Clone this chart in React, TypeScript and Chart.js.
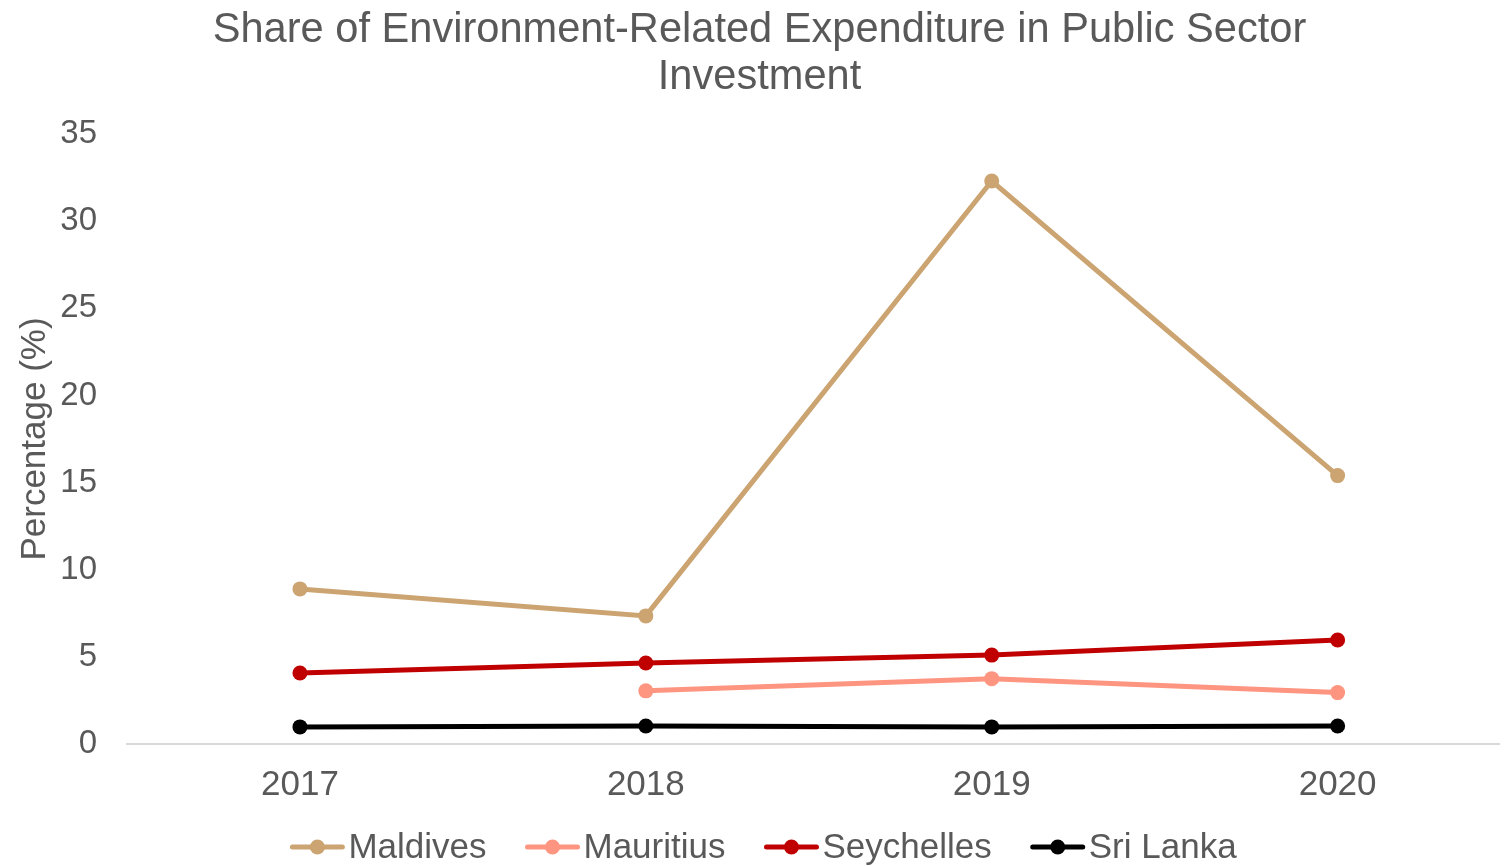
import React, { useEffect, useRef } from "react";
import { Chart, registerables } from "chart.js";

Chart.register(...registerables);

const categories = ["2017", "2018", "2019", "2020"];
const maldives = [8.9, 7.35, 32.3, 15.4];
const mauritius = [null, 3.05, 3.75, 2.95];
const seychelles = [4.07, 4.65, 5.1, 5.97];
const sriLanka = [0.98, 1.03, 0.98, 1.03];
const yTicks = [0, 5, 10, 15, 20, 25, 30, 35];

const seriesNames = ["Maldives", "Mauritius", "Seychelles", "Sri Lanka"];
const seriesColors = ["#CBA471", "#FD9581", "#C00000", "#000000"];
const titleLines = ["Share of Environment-Related Expenditure in Public Sector", "Investment"];

const TEXT = "#595959";
const FONT = "'Liberation Sans', Arial, sans-serif";

const catValues = categories.map((c) => Number(c));

const titleAndLegend = {
  id: "titleAndLegend",
  afterDraw(chart: any) {
    const ctx = chart.ctx as CanvasRenderingContext2D;
    ctx.save();
    // title
    ctx.font = `41.6px ${FONT}`;
    ctx.fillStyle = TEXT;
    ctx.textAlign = "center";
    ctx.textBaseline = "middle";
    titleLines.forEach((line, i) => {
      ctx.fillText(line, chart.width / 2 + 6, 31 + i * 47);
    });
    // legend
    ctx.font = `35px ${FONT}`;
    const iconW = 54;
    const iconGap = 4;
    const itemGap = 39;
    const widths = seriesNames.map((n) => iconW + iconGap + ctx.measureText(n).width);
    const total = widths.reduce((a, b) => a + b, 0) + itemGap * (seriesNames.length - 1);
    let x = chart.width / 2 - total / 2 + 10;
    const y = 847;
    seriesNames.forEach((name, i) => {
      const col = seriesColors[i];
      ctx.strokeStyle = col;
      ctx.lineWidth = 5;
      ctx.lineCap = "round";
      ctx.beginPath();
      ctx.moveTo(x + 2, y);
      ctx.lineTo(x + iconW - 2, y);
      ctx.stroke();
      ctx.fillStyle = col;
      ctx.beginPath();
      ctx.arc(x + iconW / 2, y, 7.5, 0, Math.PI * 2);
      ctx.fill();
      ctx.fillStyle = TEXT;
      ctx.textAlign = "left";
      ctx.fillText(name, x + iconW + iconGap, y + 1);
      x += widths[i] + itemGap;
    });
    ctx.restore();
  },
};

export default function App() {
  const ref = useRef<HTMLCanvasElement | null>(null);

  useEffect(() => {
    if (!ref.current) return;
    const seriesData = [maldives, mauritius, seychelles, sriLanka];
    const chart = new Chart(ref.current, {
      type: "line",
      data: {
        datasets: seriesNames.map((name, i) => ({
          label: name,
          data: seriesData[i].map((v, j) => ({ x: catValues[j], y: v })) as any,
          borderColor: seriesColors[i],
          backgroundColor: seriesColors[i],
          borderWidth: 5,
          pointRadius: 7.5,
          pointBorderWidth: 0,
          pointBackgroundColor: seriesColors[i],
          tension: 0,
          spanGaps: false,
        })),
      },
      options: {
        animation: false,
        responsive: true,
        maintainAspectRatio: false,
        layout: { padding: { top: 134, left: 0, right: 0, bottom: 40 } },
        plugins: {
          title: { display: false },
          legend: { display: false },
          tooltip: { enabled: false },
        },
        scales: {
          x: {
            type: "linear",
            min: 2016.5,
            max: 2020.468,
            grid: { display: false, drawTicks: false },
            border: { display: true, color: "#D9D9D9", width: 2 },
            afterBuildTicks: (scale: any) => {
              scale.ticks = catValues.map((v) => ({ value: v }));
            },
            ticks: {
              color: TEXT,
              font: { family: FONT, size: 35 },
              padding: 20,
              callback: (v: any) => {
                const idx = catValues.indexOf(Number(v));
                return idx >= 0 ? categories[idx] : "";
              },
            },
          },
          y: {
            min: 0,
            max: 35,
            grid: { display: false, drawTicks: false },
            border: { display: false },
            afterBuildTicks: (scale: any) => {
              scale.ticks = yTicks.map((v) => ({ value: v }));
            },
            afterFit: (scale: any) => {
              scale.width = 127;
            },
            ticks: { color: TEXT, font: { family: FONT, size: 33 }, padding: 30 },
            title: {
              display: true,
              text: "Percentage (%)",
              color: TEXT,
              font: { family: FONT, size: 35 },
              padding: { top: 14, bottom: 0 },
            },
          },
        },
      },
      plugins: [titleAndLegend],
    });
    return () => chart.destroy();
  }, []);

  return (
    <div style={{ position: "fixed", left: 0, top: 0, width: 1507, height: 866, background: "#fff" }}>
      <canvas ref={ref} />
    </div>
  );
}
